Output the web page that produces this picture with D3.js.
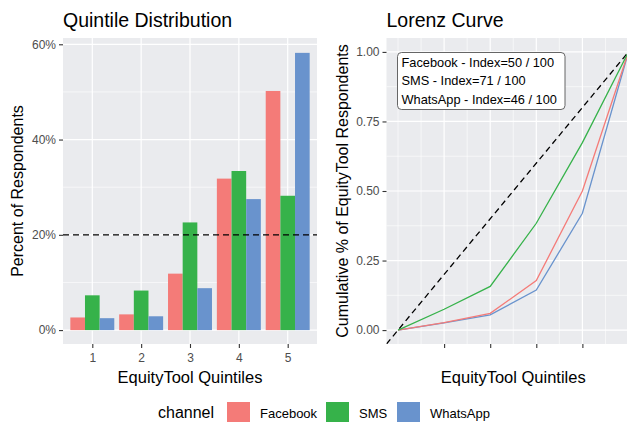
<!DOCTYPE html>
<meta charset="utf-8">
<script src="https://d3js.org/d3.v7.min.js"></script>
<style>
  body { margin: 0; background: white; }
  text { font-family: "Liberation Sans", Arial, sans-serif; }
</style>
<div id="chart"></div>
<script>

// data
var quintiles = [1, 2, 3, 4, 5];
var channels = ["Facebook", "SMS", "WhatsApp"];
var facebookPct = [2.65, 3.3, 11.85, 31.8, 50.2];
var smsPct = [7.3, 8.3, 22.6, 33.4, 28.2];
var whatsappPct = [2.5, 2.9, 8.8, 27.5, 58.2];

var lorenzX = [0, 1, 2, 3, 4, 5];
var facebookCum = [0, 0.027, 0.06, 0.178, 0.5, 1];
var smsCum = [0, 0.075, 0.157, 0.384, 0.674, 1];
var whatsappCum = [0, 0.026, 0.055, 0.144, 0.42, 1];

var indexLabels = ["Facebook - Index=50 / 100", "SMS - Index=71 / 100", "WhatsApp - Index=46 / 100"];
var pctTicks = [0, 20, 40, 60];
var cumTicks = [0, 0.25, 0.5, 0.75, 1];

var colors = d3.scaleOrdinal().domain(channels).range(["#F47B78", "#36B24A", "#6993CD"]);
var pctBySeries = {Facebook: facebookPct, SMS: smsPct, WhatsApp: whatsappPct};
var cumBySeries = {Facebook: facebookCum, SMS: smsCum, WhatsApp: whatsappCum};

var svg = d3.select("#chart").append("svg")
  .attr("width", 627).attr("height", 422);

var panelBg = "#EAEBEE";
var tickCol = "#4D4D4D";

// ---------- left panel: quintile distribution ----------
var L = {x0: 63, x1: 317, y0: 38, y1: 344};

// ggplot discrete axis, expansion 0.6 each side
var xc = d3.scaleLinear().domain([0.4, 5.6]).range([L.x0, L.x1]);
var y = d3.scaleLinear().domain([-2.92, 61.32]).range([L.y1, L.y0]);

svg.append("rect").attr("x", L.x0).attr("y", L.y0)
  .attr("width", L.x1 - L.x0).attr("height", L.y1 - L.y0).attr("fill", panelBg);

// gridlines
svg.selectAll("minorY").data([10, 30, 50]).enter().append("line")
  .attr("x1", L.x0).attr("x2", L.x1)
  .attr("y1", function(d) { return y(d); }).attr("y2", function(d) { return y(d); })
  .attr("stroke", "white").attr("stroke-width", 0.6);
svg.selectAll("majorY").data(pctTicks).enter().append("line")
  .attr("x1", L.x0).attr("x2", L.x1)
  .attr("y1", function(d) { return y(d); }).attr("y2", function(d) { return y(d); })
  .attr("stroke", "white").attr("stroke-width", 1.2);
svg.selectAll("majorX").data(quintiles).enter().append("line")
  .attr("y1", L.y0).attr("y2", L.y1)
  .attr("x1", function(d) { return xc(d); }).attr("x2", function(d) { return xc(d); })
  .attr("stroke", "white").attr("stroke-width", 1.2);

// bars (dodged, 0.9 total width)
var barW = 0.3;
channels.forEach(function(ch, i) {
  svg.selectAll("bar" + ch).data(pctBySeries[ch]).enter().append("rect")
    .attr("x", function(d, j) { return xc(quintiles[j] - 0.45 + i * barW); })
    .attr("width", xc(1 + barW) - xc(1))
    .attr("y", function(d) { return y(d); })
    .attr("height", function(d) { return y(0) - y(d); })
    .attr("fill", colors(ch));
});

// 20% reference
svg.append("line").attr("x1", L.x0).attr("x2", L.x1)
  .attr("y1", y(20)).attr("y2", y(20))
  .attr("stroke", "black").attr("stroke-width", 1.3).attr("stroke-dasharray", "6,4");

// axes
var axL = svg.append("g").attr("transform", "translate(" + L.x0 + ",0)")
  .call(d3.axisLeft(y).tickValues(pctTicks).tickSize(4).tickPadding(3).tickFormat(function(d) { return d + "%"; }));
var axB = svg.append("g").attr("transform", "translate(0," + L.y1 + ")")
  .call(d3.axisBottom(xc).tickValues(quintiles).tickSize(4).tickPadding(5).tickFormat(d3.format("d")));

// ---------- right panel: lorenz curve ----------
var R = {x0: 386.5, x1: 640, y0: 38, y1: 344};
var lx = d3.scaleLinear().domain([-0.25, 5.25]).range([R.x0, R.x1]);
var ly = d3.scaleLinear().domain([-0.05, 1.05]).range([R.y1, R.y0]);

svg.append("defs").append("clipPath").attr("id", "clipR")
  .append("rect").attr("x", R.x0).attr("y", R.y0).attr("width", R.x1 - R.x0).attr("height", R.y1 - R.y0);

svg.append("rect").attr("x", R.x0).attr("y", R.y0)
  .attr("width", R.x1 - R.x0).attr("height", R.y1 - R.y0).attr("fill", panelBg);

svg.selectAll("rMinorY").data([0.125, 0.375, 0.625, 0.875]).enter().append("line")
  .attr("x1", R.x0).attr("x2", R.x1)
  .attr("y1", function(d) { return ly(d); }).attr("y2", function(d) { return ly(d); })
  .attr("stroke", "white").attr("stroke-width", 0.6);
svg.selectAll("rMajorY").data(cumTicks).enter().append("line")
  .attr("x1", R.x0).attr("x2", R.x1)
  .attr("y1", function(d) { return ly(d); }).attr("y2", function(d) { return ly(d); })
  .attr("stroke", "white").attr("stroke-width", 1.2);
svg.selectAll("rMinorX").data([0, 0.5, 1.5, 2.5, 3.5, 4.5, 5]).enter().append("line")
  .attr("y1", R.y0).attr("y2", R.y1)
  .attr("x1", function(d) { return lx(d); }).attr("x2", function(d) { return lx(d); })
  .attr("stroke", "white").attr("stroke-width", 0.6);
svg.selectAll("rMajorX").data([1, 2, 3, 4]).enter().append("line")
  .attr("y1", R.y0).attr("y2", R.y1)
  .attr("x1", function(d) { return lx(d); }).attr("x2", function(d) { return lx(d); })
  .attr("stroke", "white").attr("stroke-width", 1.2);

// equality line
svg.append("line").attr("clip-path", "url(#clipR)")
  .attr("x1", lx(-0.25)).attr("y1", ly(-0.05)).attr("x2", lx(5.25)).attr("y2", ly(1.05))
  .attr("stroke", "black").attr("stroke-width", 1.3).attr("stroke-dasharray", "6,4");

var line = d3.line()
  .x(function(d, i) { return lx(lorenzX[i]); })
  .y(function(d) { return ly(d); });
["WhatsApp", "Facebook", "SMS"].forEach(function(ch) {
  svg.append("path").attr("d", line(cumBySeries[ch]))
    .attr("fill", "none").attr("stroke", colors(ch)).attr("stroke-width", 1.3);
});

// index label box
var box = svg.append("g");
box.append("rect").attr("x", 397.5).attr("y", 52.5).attr("width", 167.5).attr("height", 57)
  .attr("rx", 4).attr("fill", "white").attr("stroke", "#555").attr("stroke-width", 0.9);
box.selectAll("t").data(indexLabels).enter().append("text")
  .attr("x", 401.5).attr("y", function(d, i) { return 66.5 + i * 18.5; })
  .attr("font-size", 12.8).attr("fill", "black").text(function(d) { return d; });

var axR = svg.append("g").attr("transform", "translate(" + R.x0 + ",0)")
  .call(d3.axisLeft(ly).tickValues(cumTicks).tickSize(4).tickPadding(3).tickFormat(d3.format(".2f")));
var axRB = svg.append("g").attr("transform", "translate(0," + R.y1 + ")")
  .call(d3.axisBottom(lx).tickValues([1, 2, 3, 4]).tickSize(4).tickFormat(""));

// axis styling like ggplot
[axL, axB, axR, axRB].forEach(function(a) {
  a.select(".domain").remove();
  a.selectAll(".tick line").attr("stroke", "#333").attr("stroke-width", 1.1);
  a.selectAll(".tick text").attr("fill", tickCol).attr("font-size", 12)
    .style("font-family", "'Liberation Sans', Arial, sans-serif");
});

// titles
svg.append("text").attr("x", 63).attr("y", 26.5).attr("font-size", 19.5).text("Quintile Distribution");
svg.append("text").attr("x", 386.5).attr("y", 26.5).attr("font-size", 19.5).text("Lorenz Curve");

svg.append("text").attr("x", (L.x0 + L.x1) / 2).attr("y", 383).attr("text-anchor", "middle")
  .attr("font-size", 16.5).text("EquityTool Quintiles");
svg.append("text").attr("x", (R.x0 + R.x1) / 2).attr("y", 383).attr("text-anchor", "middle")
  .attr("font-size", 16.5).text("EquityTool Quintiles");

svg.append("text").attr("transform", "translate(23," + (L.y0 + L.y1) / 2 + ") rotate(-90)")
  .attr("text-anchor", "middle").attr("font-size", 16).text("Percent of Respondents");
svg.append("text").attr("transform", "translate(348," + (R.y0 + R.y1) / 2 + ") rotate(-90)")
  .attr("text-anchor", "middle").attr("font-size", 16).text("Cumulative % of EquityTool Respondents");

// legend
svg.append("text").attr("x", 158).attr("y", 418).attr("font-size", 16).text("channel");
var legendX = [227, 326, 397];
channels.forEach(function(ch, i) {
  svg.append("rect").attr("x", legendX[i]).attr("y", 402).attr("width", 23).attr("height", 23)
    .attr("fill", colors(ch));
  svg.append("text").attr("x", legendX[i] + 33).attr("y", 418).attr("font-size", 13).text(ch);
});

</script>
